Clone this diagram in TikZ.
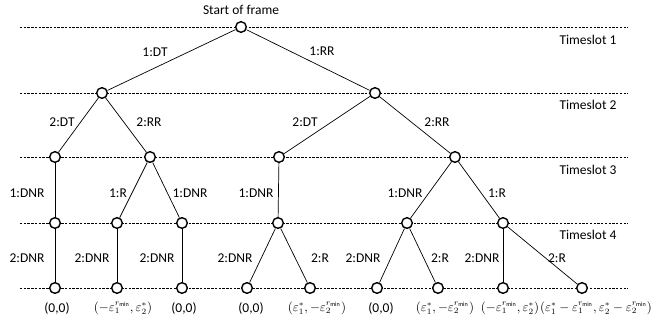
\documentclass[tikz,border=0pt]{standalone}
\usepackage{fontspec}
\setmainfont{Carlito}
\usetikzlibrary{positioning}

\begin{document}
\begin{tikzpicture}[x=0.03cm,y=-0.03cm,
    st/.style={circle,draw,line width=1.2pt,minimum size=0.32cm,inner sep=0pt,fill=white},
    lbl/.style={font=\fontsize{11.5}{13}\selectfont,inner sep=1pt},
    pay/.style={font=\fontsize{10.5}{12}\selectfont,inner sep=0pt},
    slot/.style={line width=0.4pt,dash pattern=on 2pt off 1.2pt},
    br/.style={line width=0.6pt}]
  \useasboundingbox (0,0) rectangle (659,322);

  % timeslot boundaries
  \foreach \y [count=\k] in {27,93,157,223,288} {
    \coordinate (L\k) at (20,\y);
    \coordinate (R\k) at (628,\y);
    \draw[slot] (L\k) -- (R\k);
  }

  % timeslot labels
  \foreach \t/\y in {1/40,2/105,3/170,4/235} {
    \node[lbl] (ts\t) at (588,\y) {Timeslot \t};
  }

  % tree
  \node[st] (s) at (241,27) {};
  \node[lbl] (sof) at (241,10) {Start of frame};

  \node[st] (a) at (102,93) {};
  \node[st] (b) at (375,93) {};

  \node[st] (aa) at (55,157) {};
  \node[st] (ab) at (150,157) {};
  \node[st] (ba) at (279,157) {};
  \node[st] (bb) at (455,157) {};

  \node[st] (aa1) at (55,223) {};
  \node[st] (ab1) at (117,223) {};
  \node[st] (ab2) at (182,223) {};
  \node[st] (ba1) at (278,223) {};
  \node[st] (bb1) at (407,223) {};
  \node[st] (bb2) at (503,223) {};

  \node[st] (aa1x) at (55,288) {};
  \node[st] (ab1x) at (117,288) {};
  \node[st] (ab2x) at (182,288) {};
  \node[st] (ba1a) at (247,288) {};
  \node[st] (ba1b) at (310,288) {};
  \node[st] (bb1a) at (377,288) {};
  \node[st] (bb1b) at (438,288) {};
  \node[st] (bb2a) at (503,288) {};
  \node[st] (bb2b) at (582,288) {};

  % branches
  \foreach \u/\v in {s/a,s/b,a/aa,a/ab,b/ba,b/bb,aa/aa1,ab/ab1,ab/ab2,ba/ba1,bb/bb1,bb/bb2,
      aa1/aa1x,ab1/ab1x,ab2/ab2x,ba1/ba1a,ba1/ba1b,bb1/bb1a,bb1/bb1b,bb2/bb2a,bb2/bb2b} {
    \draw[br] (\u) -- (\v);
  }

  % branch labels
  \foreach \n/\x/\y/\t in {
      l1/155/52/{1:DT}, l2/322/51/{1:RR},
      l3/62/122/{2:DT}, l4/149/122/{2:RR}, l5/305/122/{2:DT}, l6/437/122/{2:RR},
      l7/27/193/{1:DNR}, l8/118/193/{1:R}, l9/190/193/{1:DNR}, l10/256/193/{1:DNR},
      l11/405/193/{1:DNR}, l12/497/193/{1:R},
      l13/27/258/{2:DNR}, l14/92/258/{2:DNR}, l15/157/258/{2:DNR}, l16/235/258/{2:DNR},
      l17/320/258/{2:R}, l18/363/258/{2:DNR}, l19/440/258/{2:R}, l20/482/258/{2:DNR},
      l21/557/258/{2:R}} {
    \node[lbl] (\n) at (\x,\y) {\t};
  }

  % outcomes
  \node[lbl] (o1) at (57,308) {(0,0)};
  \node[pay] (o2) at (123,308) {$(-\varepsilon_1^{r_{\min}},\varepsilon_2^{*})$};
  \node[lbl] (o3) at (184,308) {(0,0)};
  \node[lbl] (o4) at (251,308) {(0,0)};
  \node[pay] (o5) at (317,308) {$(\varepsilon_1^{*},-\varepsilon_2^{r_{\min}})$};
  \node[lbl] (o6) at (381,308) {(0,0)};
  \node[pay] (o7) at (445,308) {$(\varepsilon_1^{*},-\varepsilon_2^{r_{\min}})$};
  \node[pay] (o8) at (510,308) {$(-\varepsilon_1^{r_{\min}},\varepsilon_2^{*})$};
  \node[pay] (o9) at (596,308) {$(\varepsilon_1^{*}-\varepsilon_1^{r_{\min}},\varepsilon_2^{*}-\varepsilon_2^{r_{\min}})$};
\end{tikzpicture}
\end{document}
